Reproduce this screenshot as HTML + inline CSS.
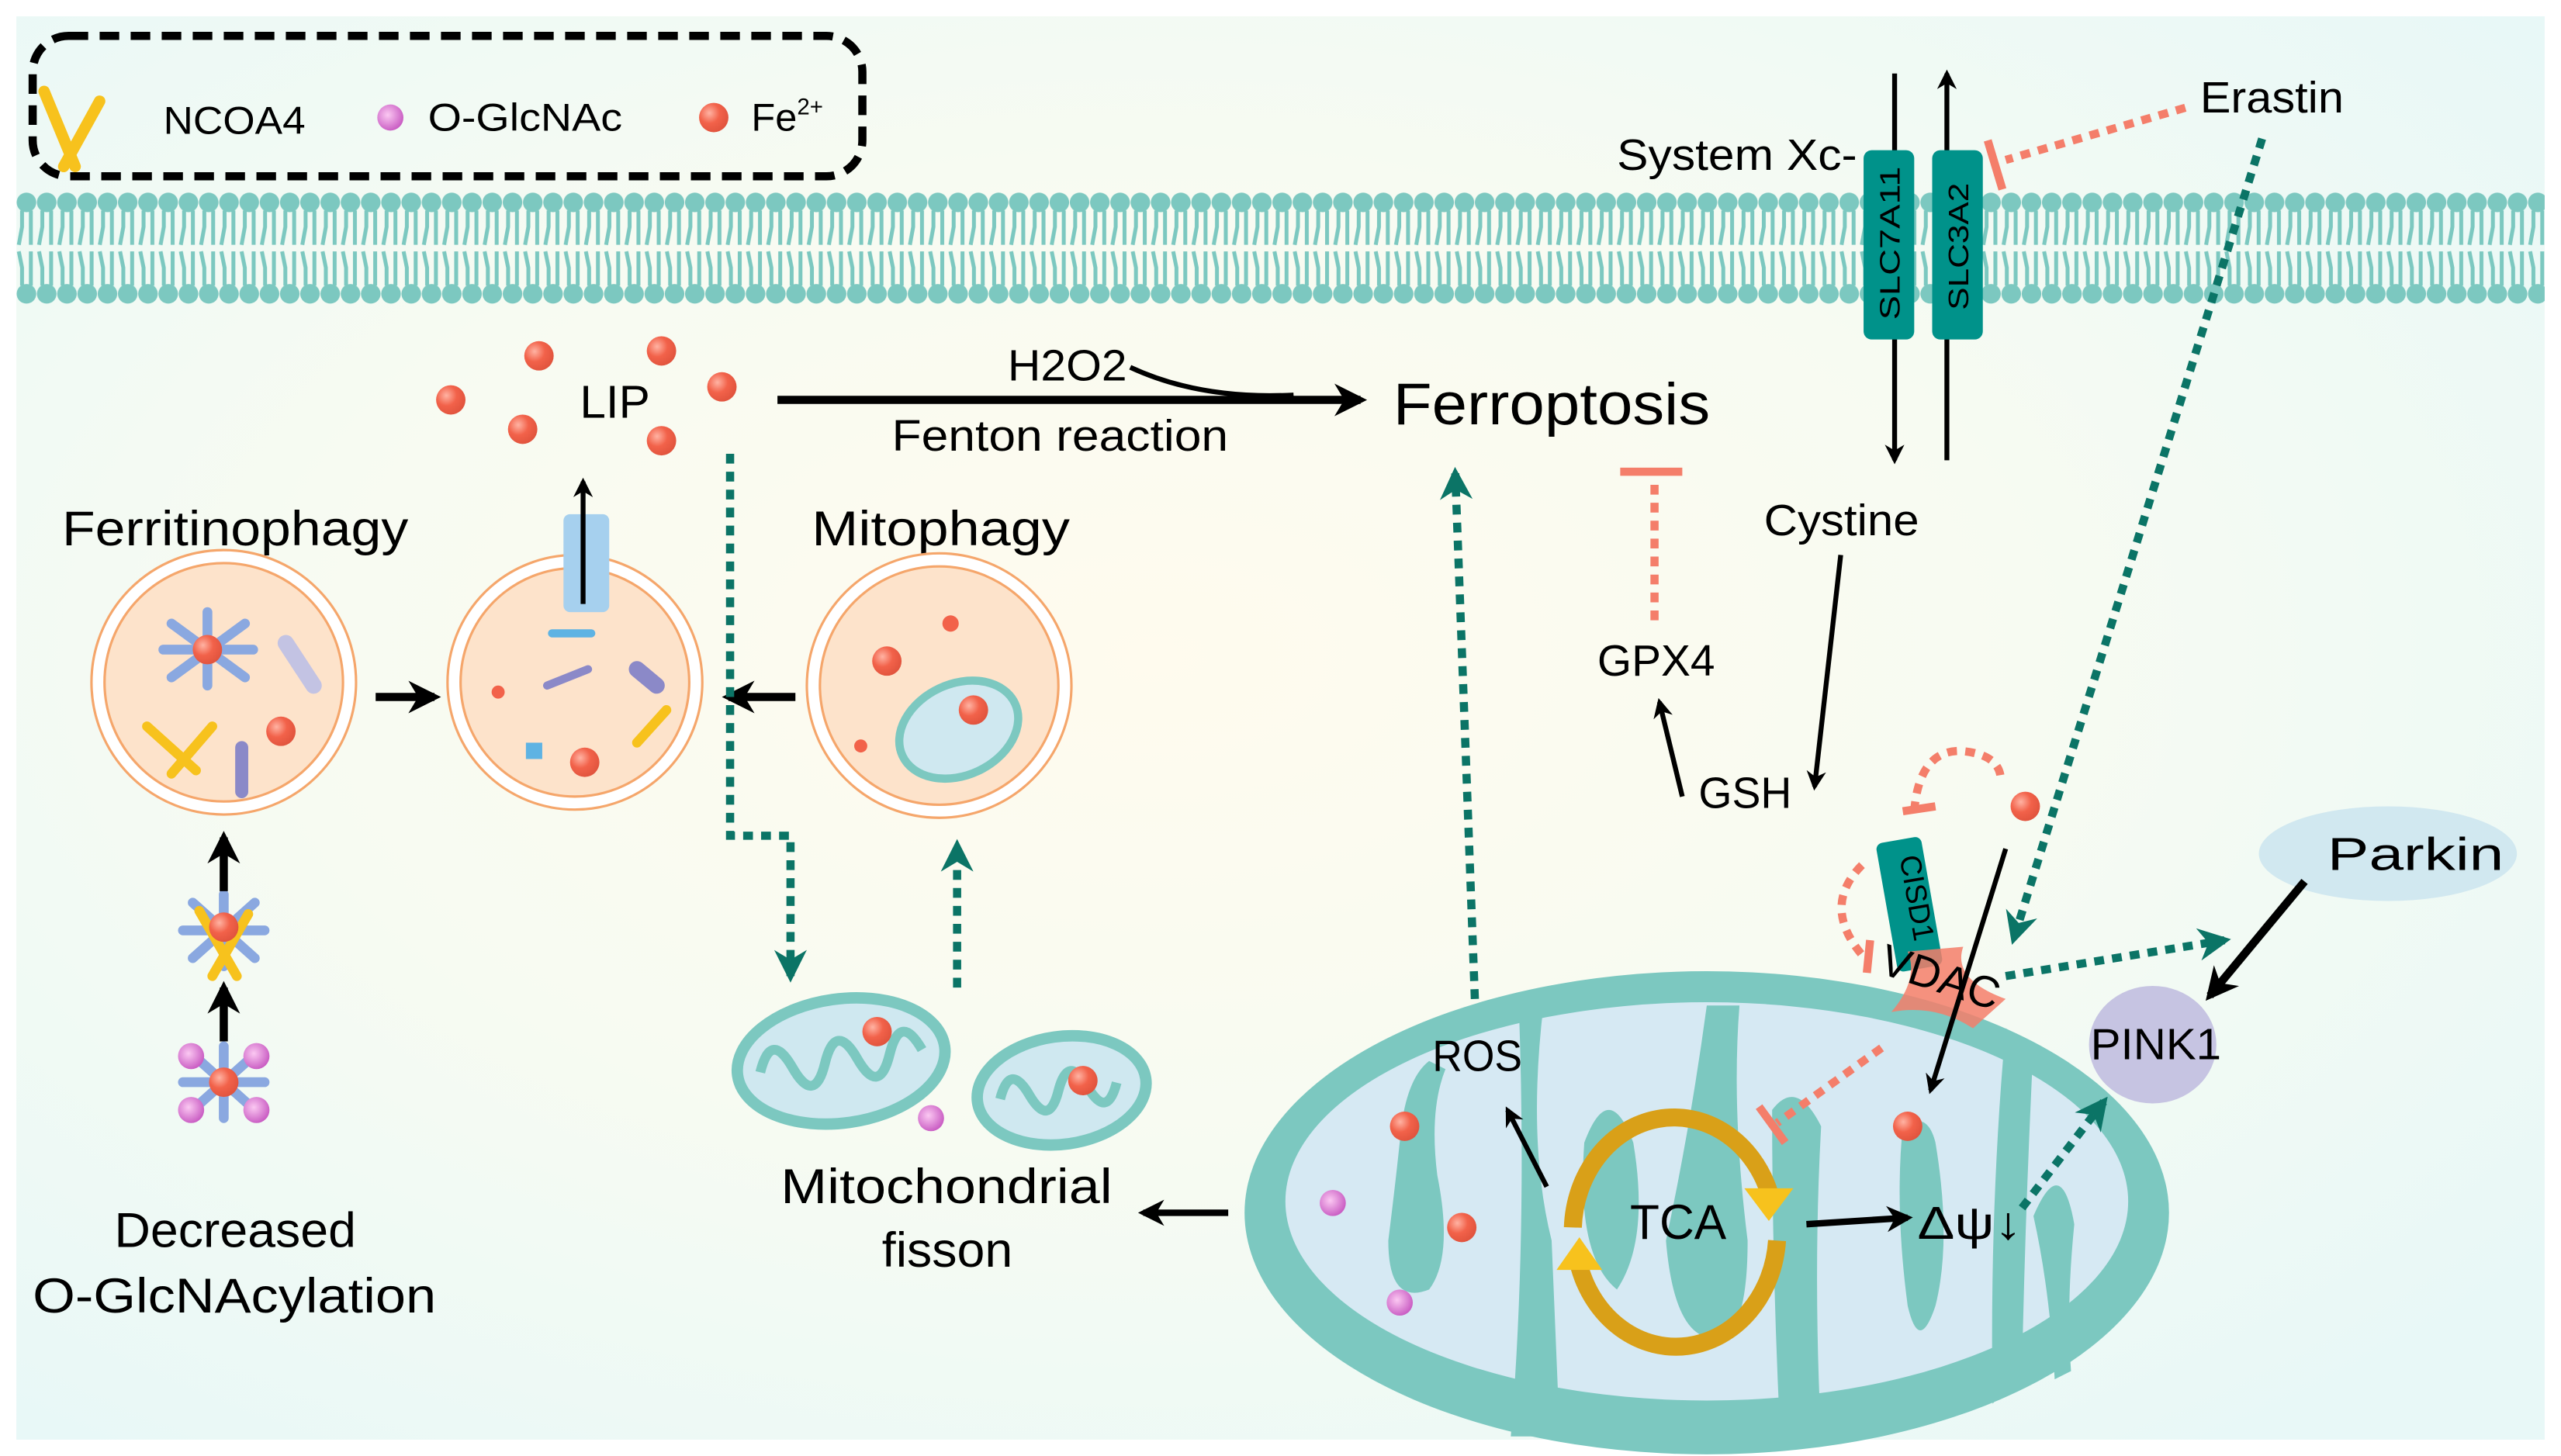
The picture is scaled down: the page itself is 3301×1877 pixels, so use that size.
<!DOCTYPE html>
<html><head><meta charset="utf-8"><style>
html,body{margin:0;padding:0;background:#fff}
svg{display:block}
text{font-family:"Liberation Sans",sans-serif;fill:#000}
</style></head><body>
<svg width="3301" height="1877" viewBox="0 0 1568 892" preserveAspectRatio="none" xmlns="http://www.w3.org/2000/svg">
<defs>
<radialGradient id="bg" cx="0.45" cy="0.45" r="0.7">
<stop offset="0" stop-color="#fffbee"/><stop offset="0.5" stop-color="#f7fbf2"/><stop offset="1" stop-color="#e8f8f7"/>
</radialGradient>
<radialGradient id="fe" cx="0.35" cy="0.35" r="0.7"><stop offset="0" stop-color="#ffb3a3"/><stop offset="0.5" stop-color="#f2624a"/><stop offset="1" stop-color="#e0533d"/></radialGradient>
<radialGradient id="gl" cx="0.4" cy="0.4" r="0.7"><stop offset="0" stop-color="#fbc8f2"/><stop offset="1" stop-color="#c34fbd"/></radialGradient>
<marker id="ab" viewBox="0 0 10 10" refX="8" refY="5" markerWidth="4" markerHeight="4" orient="auto"><path d="M0,0 L10,5 L0,10 L3,5z" fill="#000"/></marker>
<marker id="at" viewBox="0 0 10 10" refX="8" refY="5" markerWidth="4" markerHeight="4" orient="auto"><path d="M0,0 L10,5 L0,10 L3,5z" fill="#0b7466"/></marker>
<pattern id="mem" x="10" y="117" width="12.4" height="70" patternUnits="userSpaceOnUse">
<circle cx="6.2" cy="7" r="6" fill="#7cc8c0"/>
<circle cx="6.2" cy="63" r="6" fill="#7cc8c0"/>
<path d="M3.5,12 L3.5,22 L1.5,33 M8.9,12 L8.9,33 M3.5,58 L3.5,47 L1.5,37 M8.9,58 L8.9,37" stroke="#7cc8c0" stroke-width="2.4" fill="none"/>
</pattern>
<g id="ball"><circle r="9" fill="url(#fe)"/></g>
<g id="gball"><circle r="8" fill="url(#gl)"/></g>
</defs>
<rect width="1568" height="892" fill="#fff"/>
<rect x="10" y="10" width="1548" height="872" fill="url(#bg)"/>

<!-- membrane -->
<rect x="10" y="117" width="1548" height="70" fill="url(#mem)"/>

<!-- legend -->
<rect x="20" y="22" width="508" height="86" rx="22" fill="none" stroke="#000" stroke-width="5" stroke-dasharray="12 7"/>
<g stroke="#f7c21d" stroke-width="7" stroke-linecap="round" fill="none"><path d="M27,56 L46,102"/><path d="M61,62 L39,102"/></g>
<text x="100" y="82" font-size="24" textLength="87" lengthAdjust="spacingAndGlyphs">NCOA4</text>
<use href="#gball" x="239" y="72"/>
<text x="262" y="80" font-size="24" textLength="119" lengthAdjust="spacingAndGlyphs">O-GlcNAc</text>
<use href="#ball" x="437" y="72"/>
<text x="460" y="80" font-size="24">Fe<tspan font-size="14" dy="-10">2+</tspan></text>

<!-- system Xc -->
<line x1="1160" y1="45" x2="1160" y2="282" stroke="#000" stroke-width="3" marker-end="url(#ab)"/>
<line x1="1192" y1="282" x2="1192" y2="45" stroke="#000" stroke-width="3" marker-end="url(#ab)"/>
<rect x="1141" y="92" width="31" height="116" rx="5" fill="#00928a"/>
<rect x="1183" y="92" width="31" height="116" rx="5" fill="#00928a"/>
<text transform="translate(1163,196) rotate(-90)" font-size="17" textLength="94" lengthAdjust="spacingAndGlyphs">SLC7A11</text>
<text transform="translate(1205,190) rotate(-90)" font-size="17" textLength="78" lengthAdjust="spacingAndGlyphs">SLC3A2</text>
<text x="990" y="104" font-size="27" textLength="147" lengthAdjust="spacingAndGlyphs">System Xc-</text>
<text x="1347" y="69" font-size="27" textLength="88" lengthAdjust="spacingAndGlyphs">Erastin</text>
<line x1="1338" y1="66" x2="1228" y2="98" stroke="#f47e6a" stroke-width="5" stroke-dasharray="6 5"/>
<line x1="1217" y1="86" x2="1226" y2="116" stroke="#f47e6a" stroke-width="5"/>
<line x1="1385" y1="85" x2="1233" y2="575" stroke="#0b7466" stroke-width="5" stroke-dasharray="6 5" marker-end="url(#at)"/>

<!-- Ferroptosis -->
<text x="853" y="260" font-size="36" textLength="194" lengthAdjust="spacingAndGlyphs">Ferroptosis</text>
<line x1="476" y1="245" x2="833" y2="245" stroke="#000" stroke-width="5" marker-end="url(#ab)"/>
<path d="M692,225 Q735,245 792,242" stroke="#000" stroke-width="3" fill="none"/>
<text x="617" y="233" font-size="27" textLength="73" lengthAdjust="spacingAndGlyphs">H2O2</text>
<text x="546" y="276" font-size="27" textLength="206" lengthAdjust="spacingAndGlyphs">Fenton reaction</text>

<!-- LIP -->
<text x="355" y="256" font-size="28" textLength="43" lengthAdjust="spacingAndGlyphs">LIP</text>
<use href="#ball" x="276" y="245"/><use href="#ball" x="320" y="263"/><use href="#ball" x="330" y="218"/>
<use href="#ball" x="405" y="215"/><use href="#ball" x="442" y="237"/><use href="#ball" x="405" y="270"/>

<text x="38" y="334" font-size="30" textLength="212" lengthAdjust="spacingAndGlyphs">Ferritinophagy</text>
<text x="497" y="334" font-size="30" textLength="158" lengthAdjust="spacingAndGlyphs">Mitophagy</text>

<!-- lysosomes -->
<g stroke="#f5a66b" stroke-width="1.5">
<circle cx="137" cy="418" r="81" fill="#fff"/><circle cx="137" cy="418" r="73" fill="#fde3cb"/>
<circle cx="352" cy="418" r="78" fill="#fff"/><circle cx="352" cy="418" r="70" fill="#fde3cb"/>
<circle cx="575" cy="420" r="81" fill="#fff"/><circle cx="575" cy="420" r="73" fill="#fde3cb"/>
</g>
<g stroke-linecap="round">
<g stroke="#8aa8e0" stroke-width="6"><line x1="105" y1="382" x2="150" y2="415"/><line x1="150" y1="382" x2="105" y2="415"/><line x1="127" y1="375" x2="127" y2="420"/><line x1="100" y1="398" x2="155" y2="398"/></g>
<line x1="175" y1="394" x2="192" y2="420" stroke="#c3c3e3" stroke-width="10"/>
<line x1="148" y1="458" x2="148" y2="485" stroke="#8b89c8" stroke-width="8"/>
<g stroke="#f7c21d" stroke-width="6"><line x1="90" y1="445" x2="120" y2="472"/><line x1="130" y1="445" x2="105" y2="474"/></g>
<line x1="335" y1="420" x2="360" y2="410" stroke="#8b89c8" stroke-width="5"/>
<line x1="390" y1="410" x2="402" y2="420" stroke="#8b89c8" stroke-width="10"/>
<line x1="390" y1="455" x2="408" y2="435" stroke="#f7c21d" stroke-width="6"/>
<line x1="338" y1="388" x2="362" y2="388" stroke="#5eb3e3" stroke-width="5"/>
</g>
<use href="#ball" x="127" y="398"/><use href="#ball" x="172" y="448"/>
<use href="#ball" x="358" y="467"/><circle cx="305" cy="424" r="4" fill="#f2624a"/>
<rect x="322" y="455" width="10" height="10" fill="#5eb3e3"/>
<rect x="345" y="315" width="28" height="60" rx="4" fill="#a6d0ee"/>
<line x1="357" y1="370" x2="357" y2="295" stroke="#000" stroke-width="3" marker-end="url(#ab)"/>
<line x1="230" y1="427" x2="266" y2="427" stroke="#000" stroke-width="5" marker-end="url(#ab)"/>
<line x1="487" y1="427" x2="446" y2="427" stroke="#000" stroke-width="5" marker-end="url(#ab)"/>
<use href="#ball" x="543" y="405"/><circle cx="582" cy="382" r="5" fill="#f2624a"/><circle cx="527" cy="457" r="4" fill="#f2624a"/>
<ellipse cx="587" cy="447" rx="38" ry="28" transform="rotate(-25 587 447)" fill="#cfe8f0" stroke="#7cc8c0" stroke-width="5"/>
<use href="#ball" x="596" y="435"/>

<path d="M447,278 L447,512 L484,512 L484,598" stroke="#0b7466" stroke-width="5" stroke-dasharray="6 5" fill="none" marker-end="url(#at)"/>
<line x1="586" y1="605" x2="586" y2="518" stroke="#0b7466" stroke-width="5" stroke-dasharray="6 5" marker-end="url(#at)"/>

<!-- small mitos -->
<g transform="rotate(-8 515 650)"><ellipse cx="515" cy="650" rx="64" ry="38" fill="#cfe8f0" stroke="#7cc8c0" stroke-width="7"/>
<path d="M465,650 q10,-25 20,0 q10,25 20,0 q10,-25 20,0 q10,25 20,0 q10,-25 20,0" stroke="#7cc8c0" stroke-width="6" fill="none"/></g>
<g transform="rotate(-8 650 668)"><ellipse cx="650" cy="668" rx="52" ry="33" fill="#cfe8f0" stroke="#7cc8c0" stroke-width="7"/>
<path d="M612,668 q9,-22 18,0 q9,22 18,0 q9,-22 18,0 q9,22 18,0" stroke="#7cc8c0" stroke-width="6" fill="none"/></g>
<use href="#ball" x="537" y="632"/><use href="#ball" x="663" y="662"/><use href="#gball" x="570" y="685"/>
<text x="478" y="737" font-size="30" textLength="203" lengthAdjust="spacingAndGlyphs">Mitochondrial</text>
<text x="540" y="776" font-size="30" textLength="80" lengthAdjust="spacingAndGlyphs">fisson</text>
<line x1="752" y1="743" x2="700" y2="743" stroke="#000" stroke-width="4" marker-end="url(#ab)"/>

<!-- ferritin clusters -->
<g stroke-linecap="round" stroke-width="6">
<g stroke="#8aa8e0"><line x1="118" y1="553" x2="156" y2="587"/><line x1="156" y1="553" x2="118" y2="587"/><line x1="137" y1="548" x2="137" y2="592"/><line x1="112" y1="570" x2="162" y2="570"/></g>
<g stroke="#f7c21d"><line x1="122" y1="558" x2="145" y2="598"/><line x1="152" y1="560" x2="130" y2="598"/></g>
<g stroke="#8aa8e0"><line x1="118" y1="646" x2="156" y2="680"/><line x1="156" y1="646" x2="118" y2="680"/><line x1="137" y1="641" x2="137" y2="685"/><line x1="112" y1="663" x2="162" y2="663"/></g>
</g>
<use href="#ball" x="137" y="568"/><use href="#ball" x="137" y="663"/>
<use href="#gball" x="117" y="647"/><use href="#gball" x="157" y="647"/><use href="#gball" x="117" y="680"/><use href="#gball" x="157" y="680"/>
<line x1="137" y1="546" x2="137" y2="513" stroke="#000" stroke-width="5" marker-end="url(#ab)"/>
<line x1="137" y1="638" x2="137" y2="605" stroke="#000" stroke-width="5" marker-end="url(#ab)"/>
<text x="70" y="764" font-size="30" textLength="148" lengthAdjust="spacingAndGlyphs">Decreased</text>
<text x="20" y="804" font-size="30" textLength="247" lengthAdjust="spacingAndGlyphs">O-GlcNAcylation</text>

<!-- big mito -->
<ellipse cx="1045" cy="743" rx="283" ry="148" fill="#7cc8c0"/>
<ellipse cx="1045" cy="736" rx="258" ry="122" fill="#d6e9f3"/>
<g fill="#7cc8c0">
<path d="M858,690 Q862,660 875,650 L885,655 Q875,680 880,720 Q890,770 875,790 Q850,800 850,760 Q855,720 858,690z"/>
<path d="M930,618 L945,616 Q935,700 950,760 L955,880 L925,880 Q935,760 930,618z"/>
<path d="M970,700 Q985,660 1000,700 Q1010,760 990,790 Q965,770 970,700z"/>
<path d="M1045,616 L1065,616 Q1060,680 1070,760 Q1070,820 1050,820 Q1025,820 1020,760 Q1035,690 1045,616z"/>
<path d="M1085,680 Q1100,660 1115,690 Q1110,780 1115,880 L1090,880 Q1085,780 1085,680z"/>
<path d="M1165,690 Q1180,680 1185,700 Q1195,760 1185,800 Q1175,830 1168,800 Q1160,740 1165,690z"/>
<path d="M1228,630 L1245,640 Q1240,740 1238,840 L1220,860 Q1218,740 1228,630z"/>
<path d="M1245,745 Q1262,705 1270,750 Q1265,800 1268,840 L1258,845 Q1255,790 1245,745z"/>
</g>
<!-- TCA -->
<path d="M963,752 A62,70 0 0 1 1083,730" stroke="#d9a018" stroke-width="11" fill="none"/>
<path d="M1068,728 L1098,728 L1083,748z" fill="#f7c21d"/>
<path d="M1088,760 A62,70 0 0 1 967,776" stroke="#d9a018" stroke-width="11" fill="none"/>
<path d="M953,778 L981,778 L967,758z" fill="#f7c21d"/>
<text x="998" y="759" font-size="30" textLength="59" lengthAdjust="spacingAndGlyphs">TCA</text>
<text x="877" y="656" font-size="27" textLength="55" lengthAdjust="spacingAndGlyphs">ROS</text>
<line x1="947" y1="727" x2="923" y2="680" stroke="#000" stroke-width="3" marker-end="url(#ab)"/>
<line x1="903" y1="612" x2="891" y2="290" stroke="#0b7466" stroke-width="5" stroke-dasharray="6 5" marker-end="url(#at)"/>
<line x1="1106" y1="750" x2="1168" y2="746" stroke="#000" stroke-width="4" marker-end="url(#ab)"/>
<text x="1174" y="759" font-size="28" textLength="64" lengthAdjust="spacingAndGlyphs">Δψ↓</text>
<line x1="1238" y1="740" x2="1288" y2="675" stroke="#0b7466" stroke-width="5" stroke-dasharray="6 5" marker-end="url(#at)"/>
<use href="#ball" x="860" y="690"/><use href="#ball" x="895" y="752"/><use href="#gball" x="816" y="737"/><use href="#gball" x="857" y="798"/>
<use href="#ball" x="1168" y="690"/>

<!-- PINK1 / Parkin -->
<ellipse cx="1318" cy="640" rx="39" ry="36" fill="#c6c4e2"/>
<text x="1280" y="649" font-size="27" textLength="80" lengthAdjust="spacingAndGlyphs">PINK1</text>
<ellipse cx="1462" cy="523" rx="79" ry="29" fill="#d1e8f0"/>
<text x="1425" y="533" font-size="28" textLength="108" lengthAdjust="spacingAndGlyphs">Parkin</text>
<line x1="1411" y1="540" x2="1353" y2="610" stroke="#000" stroke-width="5" marker-end="url(#ab)"/>

<!-- CISD1 / VDAC -->
<rect x="1155" y="514" width="28" height="80" rx="4" fill="#00928a" transform="rotate(-10 1169 554)"/>
<text transform="translate(1163,525) rotate(80)" font-size="18">CISD1</text>
<path d="M1168,583 L1202,580 Q1195,600 1228,612 L1208,630 Q1185,615 1158,620 Q1175,600 1168,583z" fill="#f47e6a" opacity="0.85"/>
<text x="1150" y="607" font-size="27" transform="rotate(18 1185 600)" textLength="75" lengthAdjust="spacingAndGlyphs">VDAC</text>
<line x1="1228" y1="598" x2="1362" y2="576" stroke="#0b7466" stroke-width="5" stroke-dasharray="6 5" marker-end="url(#at)"/>
<line x1="1228" y1="520" x2="1182" y2="668" stroke="#000" stroke-width="3" marker-end="url(#ab)"/>
<use href="#ball" x="1240" y="494"/>
<line x1="1152" y1="642" x2="1088" y2="688" stroke="#f47e6a" stroke-width="5" stroke-dasharray="6 5"/>
<line x1="1077" y1="678" x2="1093" y2="700" stroke="#f47e6a" stroke-width="5"/>
<path d="M1172,497 Q1175,460 1200,460 Q1225,462 1225,478" stroke="#f47e6a" stroke-width="5" stroke-dasharray="6 5" fill="none"/>
<line x1="1165" y1="497" x2="1185" y2="494" stroke="#f47e6a" stroke-width="5"/>
<path d="M1140,530 Q1115,555 1140,585" stroke="#f47e6a" stroke-width="5" stroke-dasharray="6 5" fill="none"/>
<line x1="1145" y1="576" x2="1143" y2="596" stroke="#f47e6a" stroke-width="5"/>

<!-- GSH / GPX4 / Cystine -->
<text x="1080" y="328" font-size="27" textLength="95" lengthAdjust="spacingAndGlyphs">Cystine</text>
<text x="978" y="414" font-size="27" textLength="72" lengthAdjust="spacingAndGlyphs">GPX4</text>
<text x="1040" y="495" font-size="27" textLength="57" lengthAdjust="spacingAndGlyphs">GSH</text>
<line x1="1127" y1="340" x2="1111" y2="482" stroke="#000" stroke-width="3" marker-end="url(#ab)"/>
<line x1="1030" y1="488" x2="1016" y2="430" stroke="#000" stroke-width="3" marker-end="url(#ab)"/>
<line x1="1013" y1="380" x2="1013" y2="295" stroke="#f47e6a" stroke-width="5" stroke-dasharray="6 5"/>
<line x1="992" y1="289" x2="1030" y2="289" stroke="#f47e6a" stroke-width="5"/>
</svg>
</body></html>
